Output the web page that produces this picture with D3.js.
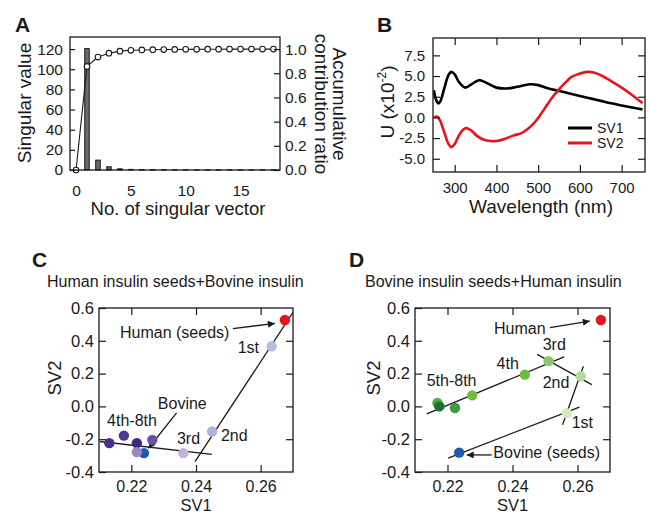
<!DOCTYPE html>
<html><head><meta charset="utf-8">
<script src="https://cdn.jsdelivr.net/npm/d3@7"></script>
<style>
body{margin:0;background:#fff}
svg text{font-family:"Liberation Sans",Arial,Helvetica,sans-serif;fill:#1a1a1a}
</style>
</head><body>
<svg id="fig" width="649" height="517"></svg>
<script>
// ---------------- Panel A data ----------------
const svNumber = [0,1,2,3,4,5,6,7,8,9,10,11,12,13,14,15,16,17,18];
const singularValue = [0,120.5,9.8,3.2,1.2,0.6,0.5,0.45,0.4,0.35,0.3,0.3,0.3,0.3,0.3,0.3,0.3,0.3,0.3];
const cumContribution = [0,0.857,0.934,0.966,0.983,0.99,0.993,0.995,0.996,0.997,0.998,0.998,0.999,0.999,1,1,1,1,1];
const aLeftTicks = [0,20,40,60,80,100,120];
const aRightTicks = [0,0.2,0.4,0.6,0.8,1.0];
const aXTicks = [0,5,10,15];

// ---------------- Panel B data ----------------
const wavelength = [250,255,260,265,275,285,292,300,310,325,340,358,375,400,425,450,480,500,525,550,575,600,625,650,675,700,725,750];
const sv1U =       [3.3,2.2,1.7,1.9,3.5,5.1,5.5,5.2,4.3,3.6,4.0,4.5,4.2,3.6,3.5,3.7,4.0,3.9,3.5,3.2,2.9,2.6,2.3,2.0,1.7,1.45,1.2,0.95];
const wavelength2 = [250,258,265,275,285,292,300,310,320,328,340,355,370,385,400,420,440,460,475,490,505,520,535,550,565,580,600,618,635,650,675,700,725,750];
const sv2U =        [0.0,0.1,-0.4,-1.8,-3.2,-3.6,-3.2,-2.2,-1.5,-1.3,-1.6,-2.3,-2.7,-2.85,-2.85,-2.6,-2.2,-1.9,-1.4,-0.7,0.3,1.4,2.5,3.4,4.2,4.9,5.3,5.5,5.4,5.1,4.4,3.6,2.7,1.7];
const bYTicks = [-5,-2.5,0,2.5,5,7.5];
const bXTicks = [300,400,500,600,700];
const bSeries = ["SV1","SV2"];

// ---------------- Panel C data ----------------
const cSV1 = [0.2675,0.2634,0.245,0.2361,0.2239,0.2132,0.2177,0.2217,0.2265,0.2217];
const cSV2 = [0.527,0.367,-0.153,-0.285,-0.285,-0.224,-0.178,-0.224,-0.204,-0.279];
const cColor = ["#e8141c","#b3bde3","#aab4dc","#c2b1d8","#1f5aa6","#4a2c89","#4f3a93","#3d2680","#6b4fa0","#9a86c3"];
const cFitLines = [[0.2397,-0.337,0.2701,0.576],[0.2103,-0.214,0.2449,-0.292]];
const cArrows = [[0.2514,0.474,0.2644,0.506],[0.2340,-0.040,0.2253,-0.255]];
const cLabelText = ["Human (seeds)","1st","2nd","3rd","Bovine","4th-8th"];
const cLabelSV1 = [0.2165,0.2529,0.2477,0.2341,0.2282,0.2125];
const cLabelSV2 = [0.419,0.323,-0.214,-0.228,-0.014,-0.118];

// ---------------- Panel D data ----------------
const dSV1 = [0.2672,0.2236,0.2567,0.2610,0.2511,0.2438,0.2276,0.2169,0.2223,0.2175];
const dSV2 = [0.527,-0.282,-0.041,0.184,0.276,0.194,0.067,0.021,-0.01,0.0];
const dColor = ["#e8141c","#1f5aa6","#d6e8bb","#b6d9a2","#8dc66c","#6cbb3c","#72bd3f","#4fae45","#3e9b45","#1f6e34"];
const dFitLines = [[0.2136,-0.045,0.2559,0.302],[0.2476,0.317,0.2644,0.133],[0.2618,0.245,0.2554,-0.112],[0.2606,-0.004,0.2202,-0.316]];
const dArrows = [[0.2515,0.480,0.2638,0.520],[0.2336,-0.296,0.2259,-0.296]];
const dLabelText = ["Human","Bovine (seeds)","1st","2nd","3rd","4th","5th-8th"];
const dLabelSV1 = [0.2343,0.2341,0.2582,0.2493,0.2493,0.2351,0.2136];
const dLabelSV2 = [0.443,-0.314,-0.132,0.113,0.343,0.229,0.122];
const cdXTicks = [0.22,0.24,0.26];
const cdYTicks = [-0.4,-0.2,0,0.2,0.4,0.6];

// ------------------------------------------------
const svg = d3.select("#fig");
svg.append("rect").attr("width",649).attr("height",517).attr("fill","#fff");
const defs = svg.append("defs");
defs.append("marker").attr("id","arrow").attr("viewBox","0 0 10 10")
  .attr("refX",10).attr("refY",5).attr("markerWidth",9).attr("markerHeight",7)
  .attr("markerUnits","userSpaceOnUse").attr("orient","auto")
  .append("path").attr("d","M0,0 L10,5 L0,10 Z").attr("fill","#1a1a1a");

function styleAxis(g, fs){
  g.select(".domain").remove();
  g.selectAll(".tick line").attr("stroke","#1a1a1a").attr("stroke-width",1.2);
  g.selectAll(".tick text").attr("font-size",fs).attr("fill","#1a1a1a")
    .attr("font-family",'"Liberation Sans",Arial,sans-serif');
}
function frame(x0,y0,x1,y1){
  svg.append("rect").attr("x",x0).attr("y",y0).attr("width",x1-x0).attr("height",y1-y0)
    .attr("fill","none").attr("stroke","#1a1a1a").attr("stroke-width",1.3);
}
function panelLabel(t,x,y){
  svg.append("text").attr("x",x).attr("y",y).attr("font-size",21).attr("font-weight","bold").text(t);
}
const hy = d => (d<0?"-":"") + Math.abs(d).toFixed(1);

// ================= Panel A =================
{
  const L=70,R=280,T=37,B=170;
  const x = d3.scaleLinear().domain([-0.55,18.6]).range([L,R]);
  const yL = d3.scaleLinear().domain([0,132]).range([B,T]);
  const yR = d3.scaleLinear().domain([0,1.1]).range([B,T]);
  const bw = x(0.41)-x(0);
  svg.append("g").selectAll("rect").data(svNumber.filter(i=>i>0)).join("rect")
    .attr("x",i=>x(i)-bw/2).attr("width",bw)
    .attr("y",i=>yL(singularValue[i])).attr("height",i=>Math.max(0.01,B-yL(singularValue[i])))
    .attr("fill","#6b6b6b").attr("stroke","#1a1a1a").attr("stroke-width",1);
  const line = d3.line().x(i=>x(i)).y(i=>yR(cumContribution[i]));
  svg.append("path").attr("d",line(svNumber)).attr("fill","none").attr("stroke","#1a1a1a").attr("stroke-width",1.1);
  svg.append("g").selectAll("circle").data(svNumber).join("circle")
    .attr("cx",i=>x(i)).attr("cy",i=>yR(cumContribution[i])).attr("r",2.8)
    .attr("fill","#fff").attr("stroke","#1a1a1a").attr("stroke-width",1.1);
  frame(L,T,R,B);
  styleAxis(svg.append("g").attr("transform",`translate(${L},0)`)
    .call(d3.axisLeft(yL).tickValues(aLeftTicks).tickSize(-5).tickPadding(7)),15.5);
  styleAxis(svg.append("g").attr("transform",`translate(${R},0)`)
    .call(d3.axisRight(yR).tickValues(aRightTicks).tickFormat(d=>d.toFixed(1)).tickSize(-6).tickPadding(5)),15.5);
  styleAxis(svg.append("g").attr("transform",`translate(0,${B})`)
    .call(d3.axisBottom(x).tickValues(aXTicks).tickSize(0).tickPadding(15)),15.5);
  svg.append("text").attr("transform","translate(31,103) rotate(-90)").attr("text-anchor","middle")
    .attr("font-size",19).text("Singular value");
  svg.append("text").attr("transform","translate(333,104) rotate(90)").attr("text-anchor","middle")
    .attr("font-size",19).text("Accumulative");
  svg.append("text").attr("transform","translate(315,104) rotate(90)").attr("text-anchor","middle")
    .attr("font-size",19).text("contribution ratio");
  svg.append("text").attr("x",178).attr("y",215).attr("text-anchor","middle")
    .attr("font-size",18.5).text("No. of singular vector");
  panelLabel("A",15,32);
}

// ================= Panel B =================
{
  const L=433,R=645,T=38,B=172;
  const x = d3.scaleLinear().domain([248,756]).range([L,R]);
  const y = d3.scaleLinear().domain([-6.6,9.6]).range([B,T]);
  const clip = defs.append("clipPath").attr("id","clipB");
  clip.append("rect").attr("x",L).attr("y",T).attr("width",R-L).attr("height",B-T);
  const g = svg.append("g").attr("clip-path","url(#clipB)");
  const ln = d3.line().curve(d3.curveCatmullRom.alpha(0.5));
  g.append("path").attr("d",ln(wavelength.map((w,i)=>[x(w),y(sv1U[i])])))
    .attr("fill","none").attr("stroke","#000").attr("stroke-width",2.6);
  g.append("path").attr("d",ln(wavelength2.map((w,i)=>[x(w),y(sv2U[i])])))
    .attr("fill","none").attr("stroke","#e8141c").attr("stroke-width",2.6);
  frame(L,T,R,B);
  styleAxis(svg.append("g").attr("transform",`translate(${L},0)`)
    .call(d3.axisLeft(y).tickValues(bYTicks).tickFormat(hy).tickSize(-7).tickPadding(8)),15);
  styleAxis(svg.append("g").attr("transform",`translate(${R},0)`)
    .call(d3.axisRight(y).tickValues(bYTicks).tickFormat("").tickSize(-7)),15);
  styleAxis(svg.append("g").attr("transform",`translate(0,${T})`)
    .call(d3.axisTop(x).tickValues(bXTicks).tickFormat("").tickSize(-7)),15);
  styleAxis(svg.append("g").attr("transform",`translate(0,${B})`)
    .call(d3.axisBottom(x).tickValues(bXTicks).tickSize(-7).tickPadding(10)),15);
  // legend
  const lg = svg.append("g");
  bSeries.forEach((s,i)=>{
    lg.append("line").attr("x1",568).attr("x2",592).attr("y1",128+i*15).attr("y2",128+i*15)
      .attr("stroke",i===0?"#000":"#e8141c").attr("stroke-width",3);
    lg.append("text").attr("x",597).attr("y",128+i*15).attr("dy","0.35em").attr("font-size",14).text(s);
  });
  const yt = svg.append("text").attr("transform","translate(394,102) rotate(-90)").attr("text-anchor","middle").attr("font-size",19);
  yt.append("tspan").text("U (x10");
  yt.append("tspan").attr("font-size",12).attr("dy",-8).text("-2");
  yt.append("tspan").attr("dy",8).text(")");
  svg.append("text").attr("x",541).attr("y",213).attr("text-anchor","middle").attr("font-size",19).text("Wavelength (nm)");
  panelLabel("B",377,32);
}

// ================= Panels C & D =================
function scatterPanel(id,L,R,T,B,sv1,sv2,cols,fits,arrows,lt,lx,ly,title,titleX,letter,letterX,ylabX){
  const x = d3.scaleLinear().domain([0.21,0.27]).range([L,R]);
  const y = d3.scaleLinear().domain([-0.4,0.6]).range([B,T]);
  const clip = defs.append("clipPath").attr("id",id);
  clip.append("rect").attr("x",L).attr("y",T).attr("width",R-L).attr("height",B-T);
  const g = svg.append("g").attr("clip-path",`url(#${id})`);
  g.selectAll("line.fit").data(fits).join("line").attr("class","fit")
    .attr("x1",d=>x(d[0])).attr("y1",d=>y(d[1])).attr("x2",d=>x(d[2])).attr("y2",d=>y(d[3]))
    .attr("stroke","#1a1a1a").attr("stroke-width",1.3);
  svg.append("g").selectAll("line").data(arrows).join("line")
    .attr("x1",d=>x(d[0])).attr("y1",d=>y(d[1])).attr("x2",d=>x(d[2])).attr("y2",d=>y(d[3]))
    .attr("stroke","#1a1a1a").attr("stroke-width",1.3).attr("marker-end","url(#arrow)");
  svg.append("g").selectAll("circle").data(sv1.map((v,i)=>i)).join("circle")
    .attr("cx",i=>x(sv1[i])).attr("cy",i=>y(sv2[i])).attr("r",5.2).attr("fill",i=>cols[i]);
  svg.append("g").selectAll("text").data(lt).join("text")
    .attr("x",(d,i)=>x(lx[i])).attr("y",(d,i)=>y(ly[i])).attr("font-size",16).text(d=>d);
  frame(L,T,R,B);
  const f2 = d=>d.toFixed(2);
  styleAxis(svg.append("g").attr("transform",`translate(${L},0)`)
    .call(d3.axisLeft(y).tickValues(cdYTicks).tickFormat(hy).tickSize(-7).tickPadding(5)),16.5);
  styleAxis(svg.append("g").attr("transform",`translate(${R},0)`)
    .call(d3.axisRight(y).tickValues(cdYTicks.slice(1,-1)).tickFormat("").tickSize(-7)),16);
  styleAxis(svg.append("g").attr("transform",`translate(0,${T})`)
    .call(d3.axisTop(x).tickValues(cdXTicks).tickFormat("").tickSize(-7)),16);
  styleAxis(svg.append("g").attr("transform",`translate(0,${B})`)
    .call(d3.axisBottom(x).tickValues(cdXTicks).tickFormat(f2).tickSize(-7).tickPadding(9)),16);
  svg.append("text").attr("x",titleX).attr("y",287).attr("font-size",16).text(title);
  svg.append("text").attr("transform",`translate(${ylabX},378) rotate(-90)`).attr("text-anchor","middle").attr("font-size",18.5).text("SV2");
  svg.append("text").attr("x",(L+R)/2).attr("y",511).attr("text-anchor","middle").attr("font-size",16.5).text("SV1");
  panelLabel(letter,letterX,267);
}
scatterPanel("clipC",99,293,308,472,cSV1,cSV2,cColor,cFitLines,cArrows,cLabelText,cLabelSV1,cLabelSV2,
  "Human insulin seeds+Bovine insulin",47,"C",32,61);
scatterPanel("clipD",415,610,308,472,dSV1,dSV2,dColor,dFitLines,dArrows,dLabelText,dLabelSV1,dLabelSV2,
  "Bovine insulin seeds+Human insulin",365,"D",349,380);
</script>
</body></html>
